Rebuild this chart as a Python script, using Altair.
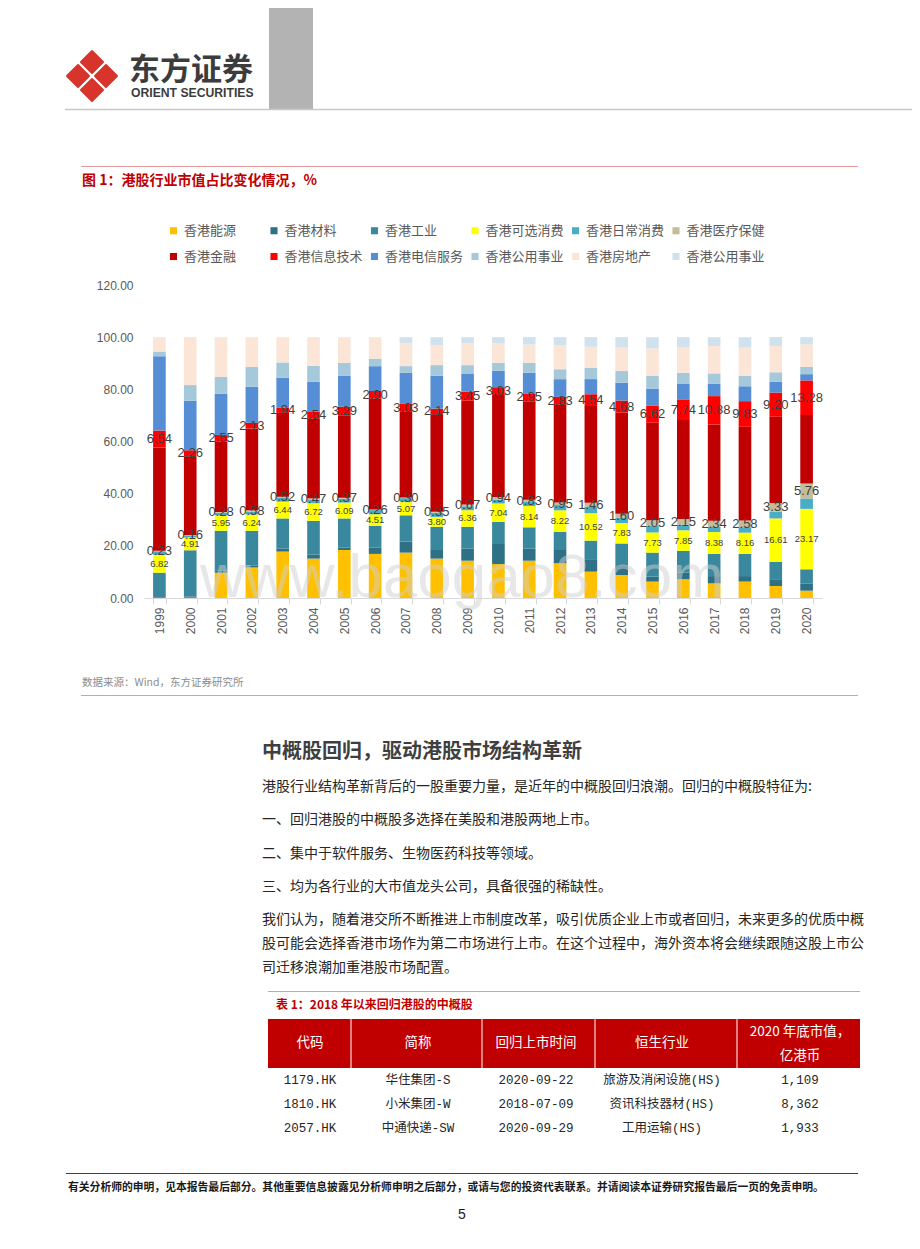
import altair as alt
import pandas as pd

# ---------------- data ----------------
years = ["1999", "2000", "2001", "2002", "2003", "2004", "2005", "2006", "2007", "2008", "2009",
         "2010", "2011", "2012", "2013", "2014", "2015", "2016", "2017", "2018", "2019", "2020"]

series_names = ["香港能源", "香港材料", "香港工业", "香港可选消费", "香港日常消费", "香港医疗保健",
                "香港金融", "香港信息技术", "香港电信服务", "香港公用事业", "香港房地产", "香港公用事业 "]

series_colors = ["#FFC000", "#2E7085", "#3A889D", "#FFFF00", "#4BACC6", "#C4BD97",
                 "#C00000", "#FF0000", "#558ED5", "#A5C9DB", "#FBE5D6", "#D0E2EE"]

energy = [0.1, 0.1, 9.7, 11.7, 17.8, 15.1, 18.4, 16.9, 17.4, 15.1, 14.3, 13.0, 14.3, 13.3, 10.1, 8.8, 6.3, 7.2, 5.6, 6.3, 4.6, 2.8]
materials = [0.6, 0.5, 0.7, 0.8, 1.2, 1.5, 1.0, 2.5, 4.2, 3.3, 4.7, 7.7, 4.7, 5.1, 4.5, 3.8, 1.9, 2.5, 2.8, 2.1, 2.6, 2.8]
industrials = [9.0, 17.7, 15.4, 13.3, 11.5, 13.0, 11.1, 8.2, 10.1, 8.9, 8.3, 8.5, 8.1, 7.0, 7.4, 8.3, 9.2, 8.4, 8.5, 8.5, 6.7, 5.4]
discretionary = [6.82, 4.91, 5.95, 6.24, 6.44, 6.72, 6.09, 4.51, 5.07, 3.80, 6.36, 7.04, 8.14, 8.22, 10.52, 7.83, 7.73, 7.85, 8.38, 8.16, 16.61, 23.17]
staples = [1.4, 0.8, 0.9, 1.0, 1.4, 1.5, 1.5, 1.6, 1.5, 1.6, 1.5, 1.5, 1.6, 2.0, 2.5, 2.0, 2.6, 2.2, 2.0, 2.1, 2.6, 4.0]
health = [0.23, 0.16, 0.28, 0.58, 0.52, 0.47, 0.37, 0.26, 0.30, 0.35, 0.67, 0.94, 0.83, 0.95, 1.46, 1.60, 2.05, 2.15, 2.34, 2.58, 3.33, 5.76]
finance = [39.5, 30.2, 27.0, 31.4, 32.1, 30.5, 31.6, 42.5, 32.8, 37.4, 39.8, 39.1, 37.8, 37.7, 37.1, 38.7, 37.4, 37.9, 36.9, 35.9, 33.1, 26.2]
info_tech = [6.54, 2.26, 2.55, 2.13, 1.94, 2.54, 3.29, 2.90, 3.03, 2.14, 3.45, 3.03, 2.95, 2.83, 4.54, 4.68, 6.62, 7.74, 10.88, 9.83, 9.20, 13.28]
telecom = [28.5, 19.0, 15.9, 13.8, 11.5, 11.6, 11.8, 9.5, 11.9, 12.6, 7.0, 6.3, 7.9, 6.8, 5.8, 6.8, 6.5, 6.1, 4.8, 5.7, 4.2, 2.4]
utilities = [1.8, 6.0, 6.4, 7.6, 5.9, 6.1, 5.0, 2.9, 2.6, 4.1, 3.2, 3.1, 3.8, 3.8, 4.4, 4.5, 4.8, 4.3, 3.9, 4.0, 3.6, 2.8]
real_estate = [5.4, 18.3, 15.1, 11.3, 9.6, 10.9, 9.7, 8.1, 8.9, 7.6, 8.5, 7.4, 7.1, 9.2, 8.0, 9.0, 10.6, 9.7, 10.5, 10.8, 10.1, 8.7]
utilities2 = [0.1, 0.1, 0.1, 0.1, 0.1, 0.1, 0.1, 0.1, 2.2, 3.1, 2.2, 2.4, 2.8, 3.1, 3.7, 4.0, 4.3, 4.0, 3.4, 4.0, 3.4, 2.7]

y_ticks = [0, 20, 40, 60, 80, 100, 120]

body_lines = [
    "港股行业结构革新背后的一股重要力量，是近年的中概股回归浪潮。回归的中概股特征为:",
    "一、回归港股的中概股多选择在美股和港股两地上市。",
    "二、集中于软件服务、生物医药科技等领域。",
    "三、均为各行业的大市值龙头公司，具备很强的稀缺性。",
    "我们认为，随着港交所不断推进上市制度改革，吸引优质企业上市或者回归，未来更多的优质中概",
    "股可能会选择香港市场作为第二市场进行上市。在这个过程中，海外资本将会继续跟随这股上市公",
    "司迁移浪潮加重港股市场配置。",
]
table_header = ["代码", "简称", "回归上市时间", "恒生行业"]
table_codes = ["1179.HK", "1810.HK", "2057.HK"]
table_names = ["华住集团-S", "小米集团-W", "中通快递-SW"]
table_dates = ["2020-09-22", "2018-07-09", "2020-09-29"]
table_inds = ["旅游及消闲设施(HS)", "资讯科技器材(HS)", "工用运输(HS)"]
table_caps = ["1,109", "8,362", "1,933"]

# ---------------- long table ----------------
all_series = [energy, materials, industrials, discretionary, staples, health,
              finance, info_tech, telecom, utilities, real_estate, utilities2]
rows = []
for i, yr in enumerate(years):
    base = 0.0
    for k, (name, vals) in enumerate(zip(series_names, all_series)):
        v = vals[i]
        rows.append({"year": yr, "series": name, "order": k, "value": v,
                     "y0": base, "y1": base + v, "mid": base + v / 2})
        base += v
df = pd.DataFrame(rows)

# ---------------- layout ----------------
OX, OY = 144, 285          # page position of plot origin
W, H = 678, 313
CJK = "Noto Sans CJK SC"
LAT = "Liberation Sans"
ONE = alt.Data(values=[{"k": 0}])


def txt(s, px, py, size, color="#262626", weight="normal", align="left",
        font=CJK, opacity=1.0, baseline="middle"):
    return alt.Chart(ONE).mark_text(
        text=s, fontSize=size, color=color, fontWeight=weight, align=align,
        baseline=baseline, font=font, opacity=opacity
    ).encode(x=alt.value(px - OX), y=alt.value(py - OY))


def rect(x1, y1, x2, y2, color):
    return alt.Chart(ONE).mark_rect(color=color).encode(
        x=alt.value(x1 - OX), x2=alt.value(x2 - OX),
        y=alt.value(y1 - OY), y2=alt.value(y2 - OY))


def hline(x1, x2, py, color, w=1.0):
    return alt.Chart(ONE).mark_rule(color=color, strokeWidth=w).encode(
        x=alt.value(x1 - OX), x2=alt.value(x2 - OX), y=alt.value(py - OY))


def vline(px, y1, y2, color, w=1.0):
    return alt.Chart(ONE).mark_rule(color=color, strokeWidth=w).encode(
        x=alt.value(px - OX), y=alt.value(y1 - OY), y2=alt.value(y2 - OY))


def diamond(px, py, size, color):
    return alt.Chart(ONE).mark_point(
        shape="diamond", filled=True, size=size, color=color, opacity=1,
        stroke=color, strokeWidth=2, strokeJoin="round"
    ).encode(x=alt.value(px - OX), y=alt.value(py - OY))


# ---------------- chart ----------------
xenc = alt.X("year:N", sort=years, title=None,
             scale=alt.Scale(paddingInner=0.59, paddingOuter=0.295),
             axis=alt.Axis(labelAngle=-90, labelFont=LAT, labelFontSize=12,
                           labelColor="#595959", domainColor="#D9D9D9",
                           tickColor="#D9D9D9", tickSize=6, tickBand="extent",
                           labelPadding=3, grid=False))

bars = alt.Chart(df).mark_bar().encode(
    x=xenc,
    y=alt.Y("y0:Q", title=None, scale=alt.Scale(domain=[0, 120], nice=False),
            axis=alt.Axis(values=y_ticks, format=".2f", domain=False, ticks=False,
                          grid=False, labelFont=LAT, labelFontSize=12,
                          labelColor="#595959", labelPadding=11)),
    y2="y1",
    color=alt.Color("series:N", scale=alt.Scale(domain=series_names, range=series_colors),
                    legend=alt.Legend(orient="none", legendX=23, legendY=-61, columns=6,
                                      direction="horizontal", title=None,
                                      symbolType="square", symbolSize=50,
                                      symbolStrokeWidth=0, labelFont=CJK,
                                      labelFontSize=13, labelColor="#595959",
                                      gridAlign="all", columnPadding=4.5,
                                      rowPadding=12, labelOffset=4, labelLimit=200)),
)

lab_disc = alt.Chart(df[df.series == "香港可选消费"]).mark_text(
    fontSize=9.5, font=LAT, color="#404040", baseline="middle"
).encode(x=alt.X("year:N", sort=years), y=alt.Y("mid:Q"), text=alt.Text("value:Q", format=".2f"))

lab_health = alt.Chart(df[df.series == "香港医疗保健"]).mark_text(
    fontSize=13, font=LAT, color="#404040", baseline="middle"
).encode(x=alt.X("year:N", sort=years), y=alt.Y("mid:Q"), text=alt.Text("value:Q", format=".2f"))

lab_it = alt.Chart(df[df.series == "香港信息技术"]).mark_text(
    fontSize=13, font=LAT, color="#404040", baseline="middle"
).encode(x=alt.X("year:N", sort=years), y=alt.Y("mid:Q"), text=alt.Text("value:Q", format=".2f"))

layers = [bars, lab_disc, lab_health, lab_it]

# watermark
layers.append(txt("www.baogao8.com", 462, 578, 62, color="#D0D0D0", font=LAT, opacity=0.5, align="center"))

# header
layers += [
    rect(269, 8, 313, 109, "#B3B3B3"),
    hline(65, 912, 109.5, "#C8C8C8", 1.5),
    diamond(92, 62, 484, "#D7352C"),
    diamond(78, 76, 484, "#D7352C"),
    diamond(106, 76, 484, "#D7352C"),
    diamond(92, 90, 484, "#D7352C"),
    txt("东方证券", 129, 71, 31, color="#3C3C3C", weight="bold"),
    txt("ORIENT SECURITIES", 131, 93, 12.2, color="#3C3C3C", weight="bold", font=LAT),
]

# figure title & source
layers += [
    hline(81, 858, 166.5, "#E39A9A", 1),
    txt("图 1：港股行业市值占比变化情况，%", 82, 181, 14, color="#C00000", weight="bold"),
    txt("数据来源：Wind，东方证券研究所", 82, 683, 10.5, color="#8C8C8C"),
    hline(81, 858, 695.5, "#E39A9A", 1),
]

# body text
layers.append(txt("中概股回归，驱动港股市场结构革新", 262, 752, 20, color="#3F3F3F", weight="bold"))
body_y = [787, 820, 854, 887, 920, 944, 968]
for s, yy in zip(body_lines, body_y):
    layers.append(txt(s, 262, yy, 14, color="#262626"))

# table
layers += [
    hline(268, 860, 991.5, "#E39A9A", 1),
    txt("表 1：2018 年以来回归港股的中概股", 276, 1005, 12, color="#C00000", weight="bold"),
    rect(268, 1019, 860, 1068, "#C00000"),
]
for sx in [351, 482, 595, 737]:
    layers.append(vline(sx, 1019, 1068, "#FFFFFF", 1))
col_x = [310, 418, 536, 662, 800]
for s, cx in zip(table_header, col_x[:4]):
    layers.append(txt(s, cx, 1043, 13.5, color="#FFFFFF", align="center"))
layers.append(txt("2020 年底市值，", col_x[4], 1032, 13.5, color="#FFFFFF", align="center"))
layers.append(txt("亿港币", col_x[4], 1056, 13.5, color="#FFFFFF", align="center"))
row_y = [1080, 1104, 1128]
MONO = "Liberation Mono, Noto Sans CJK SC"
table_cols = [table_codes, table_names, table_dates, table_inds, table_caps]
for col, cx in zip(table_cols, col_x):
    for s, ry in zip(col, row_y):
        layers.append(txt(s, cx, ry, 12.5, color="#262626", align="center", font=MONO))

# footer
layers += [
    hline(66, 858, 1173.5, "#404040", 1),
    txt("有关分析师的申明，见本报告最后部分。其他重要信息披露见分析师申明之后部分，或请与您的投资代表联系。并请阅读本证券研究报告最后一页的免责申明。",
        68, 1188, 10.8, color="#1A1A1A", weight="bold"),
    txt("5", 462, 1215, 14, color="#1A1A1A", align="center", font=LAT),
]

chart = alt.layer(*layers).properties(
    width=W, height=H,
    padding={"left": OX - 8, "top": OY - 8, "right": 904 - (OX - 8) - W, "bottom": 1228 - (OY - 8) - H},
    autosize=alt.AutoSizeParams(type="none"),
).configure_view(strokeWidth=0, stroke="transparent")

chart.save("out.html", embed_options={"renderer": "svg", "actions": False})
